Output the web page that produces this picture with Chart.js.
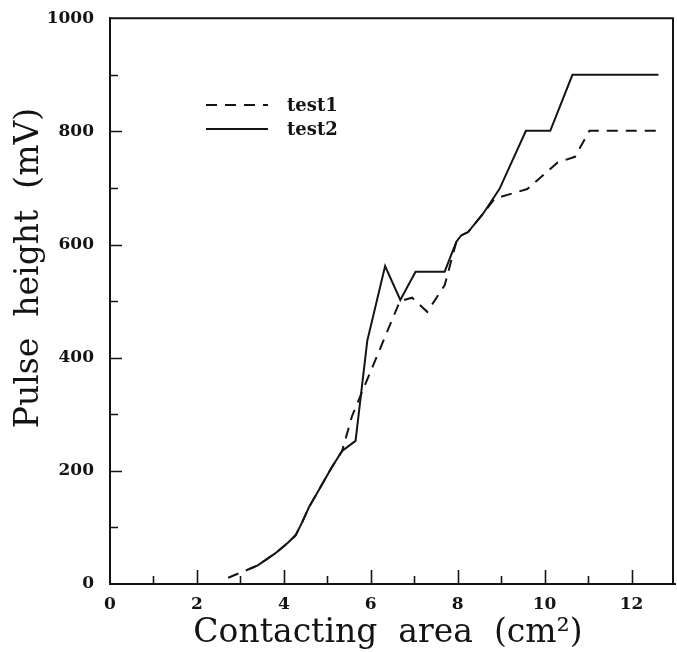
<!DOCTYPE html>
<html>
<head>
<meta charset="utf-8">
<script src="https://cdn.jsdelivr.net/npm/chart.js@4/dist/chart.umd.min.js"></script>
<style>
  html, body { margin: 0; padding: 0; background: #ffffff; }
  #wrap { width: 677px; height: 652px; }
</style>
</head>
<body>
<div id="wrap"><canvas id="c" width="677" height="652"></canvas></div>
<script>
// Pulse height against contacting area, two test runs
const seriesNames = ['test1', 'test2'];

const test1Area  = [2.72, 3.22, 3.40, 3.80, 4.08, 4.27, 4.42, 4.58, 4.73, 5.10, 5.34, 5.57, 6.67, 6.95, 7.30, 7.70, 7.97, 8.08, 8.24, 8.58, 8.85, 9.60, 10.30, 10.70, 11.03, 12.62];
const test1Pulse = [11, 27, 33, 54, 72, 86, 109, 136, 156, 206, 235, 297, 500, 506, 481, 528, 605, 616, 622, 654, 681, 698, 745, 755, 801, 801];

const test2Area  = [3.22, 3.40, 3.80, 4.08, 4.27, 4.42, 4.58, 4.73, 5.10, 5.34, 5.65, 5.92, 6.33, 6.68, 7.03, 7.70, 7.97, 8.08, 8.24, 8.58, 8.96, 9.57, 10.13, 10.64, 12.62];
const test2Pulse = [27, 33, 54, 72, 86, 109, 136, 156, 206, 235, 253, 430, 562, 502, 552, 552, 605, 616, 622, 654, 698, 801, 801, 900, 900];

const xTickLabels = [0, 2, 4, 6, 8, 10, 12];
const yTickLabels = [0, 200, 400, 600, 800, 1000];

const xTitle = 'Contacting  area  (cm\u00B2)';
const yTitle = 'Pulse  height  (mV)';

const INK = '#141414';
const tickFont = { family: 'DejaVu Serif', size: 17, weight: 'bold' };

function toPoints(xs, ys) {
  return xs.map((x, i) => ({ x: x, y: ys[i] }));
}

// Closed frame, inward tick marks, axis titles and the in-plot legend
const decorations = {
  id: 'decorations',
  afterDraw(chart) {
    const { ctx, chartArea: a, scales: { x, y } } = chart;
    ctx.save();
    ctx.strokeStyle = INK;
    ctx.fillStyle = INK;

    // top and right edges of the frame
    ctx.lineWidth = 2;
    ctx.beginPath();
    ctx.moveTo(a.left, a.top);
    ctx.lineTo(a.right - 2, a.top);
    ctx.lineTo(a.right - 2, a.bottom);
    ctx.stroke();

    // tick marks pointing into the plot
    ctx.lineWidth = 1.6;
    ctx.beginPath();
    x.ticks.forEach(t => {
      if (t.value <= x.min || t.value >= x.max) return;
      const px = Math.round(x.getPixelForValue(t.value)) + 0.5;
      const len = xTickLabels.includes(t.value) ? 14 : 8;
      ctx.moveTo(px, a.bottom);
      ctx.lineTo(px, a.bottom - len);
    });
    y.ticks.forEach(t => {
      if (t.value <= y.min || t.value >= y.max) return;
      const py = Math.round(y.getPixelForValue(t.value)) + 0.5;
      const len = yTickLabels.includes(t.value) ? 12 : 8;
      ctx.moveTo(a.left, py);
      ctx.lineTo(a.left + len, py);
    });
    ctx.stroke();

    // axis titles
    ctx.font = '33px "DejaVu Serif"';
    ctx.textAlign = 'center';
    ctx.textBaseline = 'alphabetic';
    ctx.fillText(xTitle, 388, 642);

    ctx.save();
    ctx.translate(38, 268);
    ctx.rotate(-Math.PI / 2);
    ctx.fillText(yTitle, 0, 0);
    ctx.restore();

    // legend
    const rows = [105, 129];
    ctx.font = 'bold 18px "DejaVu Serif"';
    ctx.textAlign = 'left';
    ctx.textBaseline = 'middle';
    chart.data.datasets.forEach((ds, i) => {
      const yy = rows[i];
      ctx.lineWidth = 2;
      ctx.setLineDash(ds.borderDash || []);
      ctx.beginPath();
      ctx.moveTo(206, yy);
      ctx.lineTo(268, yy);
      ctx.stroke();
      ctx.setLineDash([]);
      ctx.fillText(ds.label, 287, yy + 1);
    });

    ctx.restore();
  }
};

new Chart(document.getElementById('c'), {
  type: 'line',
  data: {
    datasets: [
      {
        label: seriesNames[0],
        data: toPoints(test1Area, test1Pulse),
        borderColor: INK,
        borderWidth: 2,
        borderDash: [11, 8],
        pointRadius: 0,
        tension: 0,
        fill: false
      },
      {
        label: seriesNames[1],
        data: toPoints(test2Area, test2Pulse),
        borderColor: INK,
        borderWidth: 2,
        pointRadius: 0,
        tension: 0,
        fill: false
      }
    ]
  },
  options: {
    responsive: false,
    devicePixelRatio: 1,
    animation: false,
    layout: { autoPadding: false, padding: { top: 15, right: 0, left: 0, bottom: 0 } },
    plugins: {
      legend: { display: false },
      tooltip: { enabled: false }
    },
    scales: {
      x: {
        type: 'linear',
        position: 'bottom',
        min: 0,
        max: 13,
        grid: { display: false },
        border: { display: true, color: INK, width: 2 },
        ticks: {
          stepSize: 1,
          autoSkip: false,
          maxRotation: 0,
          padding: 2,
          color: INK,
          font: tickFont,
          callback: v => (xTickLabels.includes(v) ? String(v) : '')
        },
        afterFit(scale) { scale.height = 68; }
      },
      y: {
        type: 'linear',
        position: 'left',
        min: 0,
        max: 1000,
        grid: { display: false },
        border: { display: true, color: INK, width: 2 },
        ticks: {
          stepSize: 100,
          autoSkip: false,
          padding: 8,
          color: INK,
          font: tickFont,
          callback: v => (yTickLabels.includes(v) ? String(v) : '')
        },
        afterFit(scale) { scale.width = 110; }
      }
    }
  },
  plugins: [decorations]
});
</script>
</body>
</html>
